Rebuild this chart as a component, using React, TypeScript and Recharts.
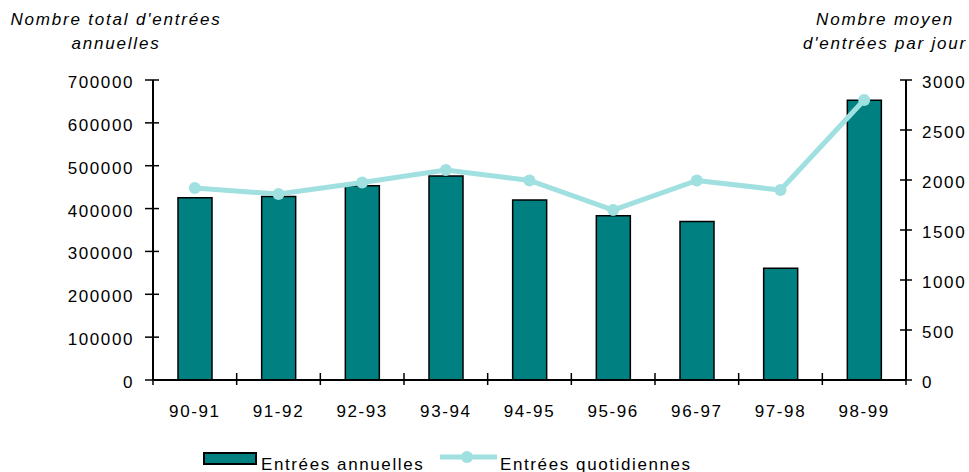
import React from 'react';
import { ComposedChart, Bar, Line, XAxis, YAxis, Legend } from 'recharts';

const categories = ['90-91', '91-92', '92-93', '93-94', '94-95', '95-96', '96-97', '97-98', '98-99'];
const annualEntries = [425000, 428000, 453000, 476000, 420000, 383000, 370000, 261000, 653000];
const dailyEntries = [1920, 1860, 1975, 2100, 1995, 1700, 1995, 1900, 2800];
const leftTicks = [0, 100000, 200000, 300000, 400000, 500000, 600000, 700000];
const rightTicks = [0, 500, 1000, 1500, 2000, 2500, 3000];

const data = categories.map((c, i) => ({ cat: c, annual: annualEntries[i], daily: dailyEntries[i] }));

const FONT = '"Liberation Sans", Arial, sans-serif';
const FS = 17;
const LS = 1.6;
const TEAL = '#008080';
const CYAN = '#a0e0e0';

const LeftTick = (props: any) => {
  const { x, y, payload } = props;
  return (
    <g>
      <line x1={x - 8} x2={x + 6} y1={y} y2={y} stroke="#000" strokeWidth={1.5} />
      <text x={x - 19} y={y + 8} textAnchor="end" fontFamily={FONT} fontSize={FS} letterSpacing={LS} fill="#000">
        {payload.value}
      </text>
    </g>
  );
};

const RightTick = (props: any) => {
  const { x, y, payload } = props;
  return (
    <g>
      <line x1={x - 6} x2={x + 6} y1={y} y2={y} stroke="#000" strokeWidth={1.5} />
      <text x={x + 16} y={y + 8} textAnchor="start" fontFamily={FONT} fontSize={FS} letterSpacing={LS} fill="#000">
        {payload.value}
      </text>
    </g>
  );
};

const BottomTick = (props: any) => {
  const { x, y, payload, index, visibleTicksCount } = props;
  const half = payload && payload.offset ? payload.offset : 41.8;
  const last = index === (visibleTicksCount ?? categories.length) - 1;
  return (
    <g>
      <line x1={x - half} x2={x - half} y1={y - 7} y2={y + 5} stroke="#000" strokeWidth={1.5} />
      {last && <line x1={x + half} x2={x + half} y1={y - 7} y2={y + 5} stroke="#000" strokeWidth={1.5} />}
      <text x={x} y={y + 37} textAnchor="middle" fontFamily={FONT} fontSize={FS} letterSpacing={LS} fill="#000">
        {payload.value}
      </text>
    </g>
  );
};

const LegendContent = () => (
  <svg width={969} height={27} style={{ display: 'block' }}>
    <rect x={204} y={8} width={52} height={11} fill={TEAL} stroke="#000" strokeWidth={2} />
    <text x={261} y={25} fontFamily={FONT} fontSize={FS} letterSpacing={LS} fill="#000">Entrées annuelles</text>
    <line x1={440} x2={497} y1={12} y2={12} stroke={CYAN} strokeWidth={5} />
    <circle cx={467} cy={12} r={6} fill={CYAN} />
    <text x={500} y={25} fontFamily={FONT} fontSize={FS} letterSpacing={LS} fill="#000">Entrées quotidiennes</text>
  </svg>
);

const titleStyle: React.CSSProperties = {
  position: 'absolute',
  fontFamily: FONT,
  fontSize: FS,
  fontStyle: 'italic',
  letterSpacing: 1.8,
  color: '#000',
  textAlign: 'center',
  lineHeight: '24px',
  whiteSpace: 'nowrap',
};

export default function App() {
  return (
    <div style={{ position: 'absolute', left: 0, top: 0, width: 969, height: 472, background: '#fff' }}>
      <ComposedChart
        width={969}
        height={472}
        data={data}
        margin={{ top: 80, right: 0, bottom: 62, left: 0 }}
        barSize={34}
      >
        <XAxis
          dataKey="cat"
          xAxisId={0}
          height={30}
          tickSize={0}
          tickMargin={0}
          tick={<BottomTick />}
          axisLine={{ stroke: '#000', strokeWidth: 2 }}
          tickLine={false}
          interval={0}
        />
        <YAxis
          yAxisId="left"
          orientation="left"
          width={153}
          domain={[0, 700000]}
          ticks={leftTicks}
          tickSize={0}
          tickMargin={0}
          tick={<LeftTick />}
          axisLine={{ stroke: '#000', strokeWidth: 2 }}
          tickLine={false}
          interval={0}
        />
        <YAxis
          yAxisId="right"
          orientation="right"
          width={63}
          domain={[0, 3000]}
          ticks={rightTicks}
          tickSize={0}
          tickMargin={0}
          tick={<RightTick />}
          axisLine={{ stroke: '#000', strokeWidth: 2 }}
          tickLine={false}
          interval={0}
        />
        <Bar
          yAxisId="left"
          dataKey="annual"
          name="Entrées annuelles"
          fill={TEAL}
          stroke="#000"
          strokeWidth={1.5}
          isAnimationActive={false}
        />
        <Line
          yAxisId="right"
          dataKey="daily"
          name="Entrées quotidiennes"
          stroke={CYAN}
          strokeWidth={5}
          dot={{ r: 6, fill: CYAN, stroke: CYAN, strokeWidth: 0 }}
          activeDot={false}
          isAnimationActive={false}
        />
        <Legend
          layout="horizontal"
          align="center"
          verticalAlign="middle"
          wrapperStyle={{ left: 0, top: 445, width: 969, height: 27 }}
          content={<LegendContent />}
        />
      </ComposedChart>
      <div style={{ ...titleStyle, left: 0, top: 8, width: 232 }}>
        Nombre total d'entrées<br />annuelles
      </div>
      <div style={{ ...titleStyle, left: 790, top: 8, width: 190 }}>
        Nombre moyen<br />d'entrées par jour
      </div>
    </div>
  );
}
